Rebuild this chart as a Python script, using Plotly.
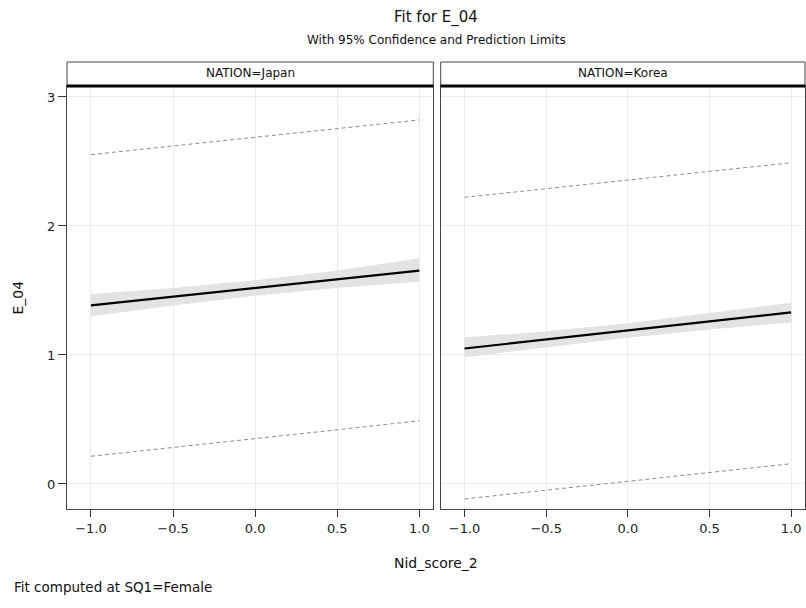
import plotly.graph_objects as go

# ---- data ----
nations = ["Japan", "Korea"]
x_vals = [-1.0, -0.5, 0.0, 0.5, 1.0]

fit_japan = [1.385, 1.452, 1.520, 1.587, 1.654]
lcl_japan = [1.300, 1.384, 1.460, 1.519, 1.568]
ucl_japan = [1.472, 1.520, 1.580, 1.655, 1.750]
lpl_japan = [0.215, 0.282, 0.349, 0.420, 0.490]
upl_japan = [2.553, 2.620, 2.687, 2.755, 2.822]

fit_korea = [1.050, 1.120, 1.190, 1.260, 1.330]
lcl_korea = [0.982, 1.057, 1.134, 1.197, 1.252]
ucl_korea = [1.137, 1.183, 1.246, 1.323, 1.405]
lpl_korea = [-0.116, -0.047, 0.018, 0.090, 0.157]
upl_korea = [2.222, 2.290, 2.357, 2.424, 2.490]

x_ticks = [-1.0, -0.5, 0.0, 0.5, 1.0]
x_tick_labels = ["\u22121.0", "\u22120.5", "0.0", "0.5", "1.0"]
y_ticks = [0, 1, 2, 3]

title_text = "Fit for E_04"
subtitle_text = "With 95% Confidence and Prediction Limits"
x_title = "Nid_score_2"
y_title = "E_04"
footnote = "Fit computed at SQ1=Female"

series = {
    "Japan": (fit_japan, lcl_japan, ucl_japan, lpl_japan, upl_japan),
    "Korea": (fit_korea, lcl_korea, ucl_korea, lpl_korea, upl_korea),
}

FONT = "DejaVu Sans"
W, H = 806, 608
ML, MR, MT, MB = 67, 1, 62, 99
PW = W - ML - MR
PH = H - MT - MB
plot_top_px = 86
ydom_top = (H - MB - plot_top_px) / PH

def px_x(p):
    return (p - ML) / PW

def px_y(p):
    return (H - MB - p) / PH

domains = [[0.0, px_x(433.3)], [px_x(440.7), 1.0]]

fig = go.Figure()

for i, nation in enumerate(nations):
    fit, lcl, ucl, lpl, upl = series[nation]
    xa = "x" if i == 0 else "x2"
    ya = "y" if i == 0 else "y2"
    fig.add_trace(go.Scatter(x=x_vals, y=lcl, mode="lines", line=dict(width=0, color="rgba(0,0,0,0)"),
                             xaxis=xa, yaxis=ya, showlegend=False, hoverinfo="skip"))
    fig.add_trace(go.Scatter(x=x_vals, y=ucl, mode="lines", line=dict(width=0, color="rgba(0,0,0,0)"),
                             fill="tonexty", fillcolor="#e3e3e3",
                             xaxis=xa, yaxis=ya, showlegend=False, hoverinfo="skip"))
    for pl in (lpl, upl):
        fig.add_trace(go.Scatter(x=x_vals, y=pl, mode="lines",
                                 line=dict(color="#8c8c8c", width=1, dash="4px,3px"),
                                 xaxis=xa, yaxis=ya, showlegend=False))
    fig.add_trace(go.Scatter(x=x_vals, y=fit, mode="lines",
                             line=dict(color="#000000", width=2.2),
                             xaxis=xa, yaxis=ya, showlegend=False))

axis_common = dict(
    range=[-1.146, 1.085],
    tickvals=x_ticks, ticktext=x_tick_labels,
    ticks="outside", ticklen=7, tickcolor="#333333", tickwidth=1,
    showline=True, linecolor="#444444", linewidth=1, mirror=True,
    showgrid=True, gridcolor="#ececec", gridwidth=1, zeroline=False,
    tickfont=dict(family=FONT, size=13, color="#222222"),
)
yaxis_common = dict(
    range=[-0.194, 3.085],
    tickvals=y_ticks,
    domain=[0, ydom_top],
    showline=True, linecolor="#444444", linewidth=1, mirror=True,
    showgrid=True, gridcolor="#ececec", gridwidth=1, zeroline=False,
    tickfont=dict(family=FONT, size=13, color="#222222"),
)

fig.update_layout(
    width=W, height=H,
    margin=dict(l=ML, r=MR, t=MT, b=MB),
    paper_bgcolor="white", plot_bgcolor="white",
    showlegend=False,
    xaxis=dict(domain=domains[0], anchor="y", **axis_common),
    xaxis2=dict(domain=domains[1], anchor="y2", **axis_common),
    yaxis=dict(anchor="x", ticks="outside", ticklen=8, tickcolor="#333333", **yaxis_common),
    yaxis2=dict(anchor="x2", ticks="", showticklabels=False, **yaxis_common),
)

shapes = []
annotations = []
for i, nation in enumerate(nations):
    d0, d1 = domains[i]
    shapes.append(dict(type="rect", xref="paper", yref="paper", x0=d0, x1=d1, y0=ydom_top, y1=1.0,
                       line=dict(color="#444444", width=1), fillcolor="white", layer="above"))
    shapes.append(dict(type="line", xref="paper", yref="paper", x0=d0, x1=d1, y0=ydom_top, y1=ydom_top,
                       line=dict(color="#000000", width=3), layer="above"))
    annotations.append(dict(text="NATION=" + nation, xref="paper", yref="paper",
                            x=(d0 + d1) / 2, y=px_y(73), showarrow=False,
                            font=dict(family=FONT, size=12, color="#111111"),
                            xanchor="center", yanchor="middle"))

annotations += [
    dict(text=title_text, xref="paper", yref="paper", x=0.5, y=px_y(17), showarrow=False,
         font=dict(family=FONT, size=15, color="#111111"), xanchor="center", yanchor="middle"),
    dict(text=subtitle_text, xref="paper", yref="paper", x=0.5, y=px_y(40), showarrow=False,
         font=dict(family=FONT, size=12, color="#111111"), xanchor="center", yanchor="middle"),
    dict(text=x_title, xref="paper", yref="paper", x=0.5, y=px_y(563), showarrow=False,
         font=dict(family=FONT, size=14, color="#111111"), xanchor="center", yanchor="middle"),
    dict(text=y_title, xref="paper", yref="paper", x=px_x(17), y=(px_y(86) + px_y(509)) / 2,
         showarrow=False, textangle=-90,
         font=dict(family=FONT, size=14, color="#111111"), xanchor="center", yanchor="middle"),
    dict(text=footnote, xref="paper", yref="paper", x=px_x(12), y=px_y(587), showarrow=False,
         font=dict(family=FONT, size=13.5, color="#111111"), xanchor="left", yanchor="middle"),
]

fig.update_layout(shapes=shapes, annotations=annotations)

fig.write_html("out.html")
